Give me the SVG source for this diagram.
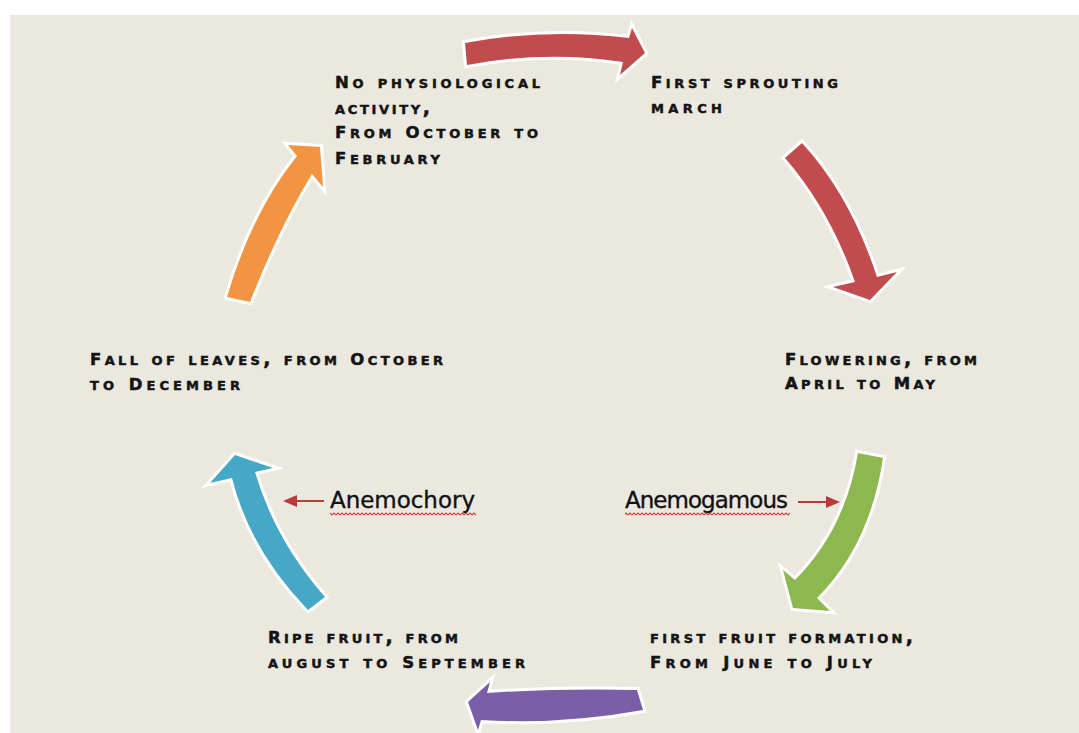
<svg xmlns="http://www.w3.org/2000/svg" width="1079" height="733" viewBox="0 0 1079 733">
  <style>
    .lbl { font-family: "DejaVu Sans", "Liberation Sans", sans-serif; font-weight: bold; font-size: 16.5px; font-variant: small-caps; fill: #141414; stroke: #141414; stroke-width: 0.5; }
    .s { font-size: 19px; }
    .hand { font-family: "DejaVu Sans", "Liberation Sans", sans-serif; font-size: 23px; fill: #111; stroke: #111; stroke-width: 0.35; }
    .arr { stroke: #ffffff; stroke-width: 6; stroke-linejoin: miter; paint-order: stroke; }
    .ptr { stroke: #bb3a3c; stroke-width: 2; fill: none; }
    .ptrhead { fill: #bb3a3c; }
  </style>
  <defs>
    <pattern id="wave" width="4" height="4" patternUnits="userSpaceOnUse">
      <path d="M0,3 L2,1 L4,3" stroke="#d23c3c" stroke-width="1.1" fill="none"/>
    </pattern>
  </defs>
  <rect x="0" y="0" width="1079" height="733" fill="#ffffff"/>
  <rect x="10" y="15" width="1069" height="718" fill="#ebe9df"/>

  <g id="connectors">
    <path id="arrow-top" class="arr" fill="#c24b4e" d="M465,43 Q545,28 629,38 L632,28 L645,53 L620,75 L623,62 Q545,50 467,65 Z"/>
    <path id="arrow-right-upper" class="arr" fill="#c24b4e" d="M785,158 L802,143 Q850,195 877,277 L897,272 L870,300 L833,287 L855,282 Q830,210 785,158 Z"/>
    <path id="arrow-green" class="arr" fill="#8db84f" d="M858,453 L883,458 Q870,545 817,598 L830,611 L793,608 L783,570 L795,580 Q845,530 858,453 Z"/>
    <path id="arrow-purple" class="arr" fill="#7a5fa8" d="M637,690 L643,710 Q560,725 481,720 L478,730 L468,702 L490,682 L487,693 Q560,688 637,690 Z"/>
    <path id="arrow-blue" class="arr" fill="#46a8c6" d="M308,610 L325,597 Q275,540 255,472 L273,468 L235,455 L210,483 L232,478 Q250,550 308,610 Z"/>
    <path id="arrow-orange" class="arr" fill="#f39442" d="M227,297 Q252,212 297,156 L288,145 L320,147 L323,187 L312,174 Q280,226 250,302 Z"/>
    <g id="pointer-anemochory">
      <line class="ptr" x1="324" y1="501" x2="292" y2="501"/>
      <path class="ptrhead" d="M283,501 L297,495 L297,507 Z"/>
    </g>
    <g id="pointer-anemogamous">
      <line class="ptr" x1="798" y1="502" x2="830" y2="502"/>
      <path class="ptrhead" d="M840,502 L826,496 L826,508 Z"/>
    </g>
  </g>

  <g id="node-dormancy">
    <text class="lbl" x="335" y="88" textLength="205">N<tspan class="s">o physiological</tspan></text>
    <text class="lbl" x="335" y="114" textLength="95"><tspan class="s">activity,</tspan></text>
    <text class="lbl" x="335" y="138" textLength="203">F<tspan class="s">rom </tspan>O<tspan class="s">ctober to</tspan></text>
    <text class="lbl" x="335" y="164" textLength="105">F<tspan class="s">ebruary</tspan></text>
  </g>
  <g id="node-sprouting">
    <text class="lbl" x="651" y="88" textLength="187">F<tspan class="s">irst sprouting</tspan></text>
    <text class="lbl" x="651" y="113" textLength="71"><tspan class="s">march</tspan></text>
  </g>
  <g id="node-flowering">
    <text class="lbl" x="785" y="365" textLength="192">F<tspan class="s">lowering, from</tspan></text>
    <text class="lbl" x="785" y="389" textLength="150">A<tspan class="s">pril to </tspan>M<tspan class="s">ay</tspan></text>
  </g>
  <g id="node-fruit-formation">
    <text class="lbl" x="650" y="643" textLength="263"><tspan class="s">first fruit formation,</tspan></text>
    <text class="lbl" x="650" y="668" textLength="222">F<tspan class="s">rom </tspan>J<tspan class="s">une to </tspan>J<tspan class="s">uly</tspan></text>
  </g>
  <g id="node-ripe-fruit">
    <text class="lbl" x="268" y="643" textLength="190">R<tspan class="s">ipe fruit, from</tspan></text>
    <text class="lbl" x="268" y="668" textLength="257"><tspan class="s">august to </tspan>S<tspan class="s">eptember</tspan></text>
  </g>
  <g id="node-leaf-fall">
    <text class="lbl" x="90" y="365" textLength="353">F<tspan class="s">all of leaves, from </tspan>O<tspan class="s">ctober</tspan></text>
    <text class="lbl" x="90" y="390" textLength="150"><tspan class="s">to </tspan>D<tspan class="s">ecember</tspan></text>
  </g>
  <g id="node-anemochory">
    <text class="hand" x="330" y="508" textLength="145">Anemochory</text>
    <rect x="330" y="512" width="146" height="4" fill="url(#wave)"/>
  </g>
  <g id="node-anemogamous">
    <text class="hand" x="625" y="508" textLength="163">Anemogamous</text>
    <rect x="625" y="512" width="165" height="4" fill="url(#wave)"/>
  </g>
</svg>
